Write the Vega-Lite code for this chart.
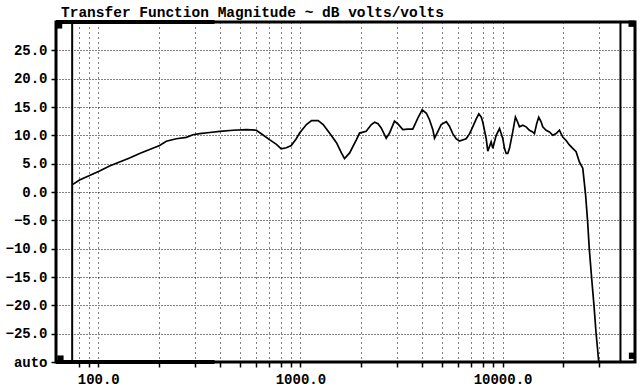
{
  "$schema": "https://vega.github.io/schema/vega-lite/v6.json",
  "width": 579,
  "height": 340,
  "autosize": {"type": "none"},
  "padding": {"left": 56, "top": 22, "right": 5, "bottom": 27},
  "background": "white",
  "title": {
    "text": "Transfer Function Magnitude ~ dB volts/volts",
    "anchor": "start",
    "frame": "group",
    "font": "Liberation Mono",
    "fontWeight": "bold",
    "fontSize": 14.5,
    "color": "black",
    "offset": 0,
    "dx": 5
  },
  "config": {
    "view": {"stroke": "black", "strokeWidth": 3},
    "axis": {
      "labelFont": "Liberation Mono",
      "labelFontWeight": "bold",
      "labelFontSize": 14,
      "labelColor": "black",
      "tickColor": "black",
      "tickWidth": 1.5,
      "tickSize": 5,
      "domain": false,
      "gridColor": "black",
      "gridOpacity": 1,
      "gridWidth": 1
    }
  },
  "datasets": {
    "curve": [
      {"f": 74.9, "db": 1.35}, {"f": 80.8, "db": 2.1}, {"f": 90.6, "db": 2.9}, {"f": 101.5, "db": 3.7},
      {"f": 113.7, "db": 4.6}, {"f": 127.5, "db": 5.3}, {"f": 142.9, "db": 6.0}, {"f": 160.2, "db": 6.8},
      {"f": 179.5, "db": 7.5}, {"f": 201.2, "db": 8.2}, {"f": 217, "db": 8.95}, {"f": 243.3, "db": 9.4},
      {"f": 272.7, "db": 9.65}, {"f": 294, "db": 10.1}, {"f": 317.4, "db": 10.3}, {"f": 355.6, "db": 10.5},
      {"f": 398.6, "db": 10.7}, {"f": 463.8, "db": 10.9}, {"f": 540.4, "db": 11.0}, {"f": 605.5, "db": 10.9},
      {"f": 651, "db": 10.1}, {"f": 703, "db": 9.25}, {"f": 761, "db": 8.4}, {"f": 804, "db": 7.6},
      {"f": 852, "db": 7.8}, {"f": 901, "db": 8.2}, {"f": 954, "db": 9.4}, {"f": 991, "db": 10.4},
      {"f": 1071, "db": 11.9}, {"f": 1135, "db": 12.6}, {"f": 1224, "db": 12.6}, {"f": 1296, "db": 11.9},
      {"f": 1393, "db": 10.4}, {"f": 1508, "db": 8.7}, {"f": 1595, "db": 6.9}, {"f": 1653, "db": 5.9},
      {"f": 1752, "db": 6.9}, {"f": 1893, "db": 9.25}, {"f": 1961, "db": 10.4}, {"f": 2115, "db": 10.7},
      {"f": 2244, "db": 11.9}, {"f": 2330, "db": 12.3}, {"f": 2420, "db": 12.05}, {"f": 2510, "db": 11.3},
      {"f": 2657, "db": 9.5}, {"f": 2760, "db": 10.4}, {"f": 2920, "db": 12.5}, {"f": 3030, "db": 12.05},
      {"f": 3210, "db": 11.0}, {"f": 3400, "db": 11.1}, {"f": 3595, "db": 11.1}, {"f": 3810, "db": 13.05},
      {"f": 4002, "db": 14.5}, {"f": 4200, "db": 13.9}, {"f": 4350, "db": 12.75}, {"f": 4520, "db": 11.0},
      {"f": 4607, "db": 9.5}, {"f": 4790, "db": 10.7}, {"f": 4970, "db": 11.9}, {"f": 5270, "db": 12.4},
      {"f": 5450, "db": 11.65}, {"f": 5670, "db": 10.3}, {"f": 5890, "db": 9.4}, {"f": 6120, "db": 9.0},
      {"f": 6605, "db": 9.4}, {"f": 6870, "db": 10.3}, {"f": 7120, "db": 11.5}, {"f": 7410, "db": 12.9},
      {"f": 7630, "db": 13.8}, {"f": 7850, "db": 13.2}, {"f": 7980, "db": 12.35}, {"f": 8300, "db": 9.4},
      {"f": 8450, "db": 7.2}, {"f": 8610, "db": 8.0}, {"f": 8780, "db": 8.85}, {"f": 8950, "db": 7.7},
      {"f": 9120, "db": 8.85}, {"f": 9300, "db": 10.0}, {"f": 9660, "db": 11.2}, {"f": 10030, "db": 9.4},
      {"f": 10220, "db": 7.7}, {"f": 10420, "db": 6.8}, {"f": 10610, "db": 6.8}, {"f": 10820, "db": 7.7},
      {"f": 11230, "db": 10.6}, {"f": 11580, "db": 13.2}, {"f": 11870, "db": 12.35}, {"f": 12120, "db": 11.5},
      {"f": 12580, "db": 11.8}, {"f": 13080, "db": 11.5}, {"f": 13580, "db": 10.9}, {"f": 14100, "db": 10.6},
      {"f": 14380, "db": 10.3}, {"f": 14760, "db": 12.1}, {"f": 15100, "db": 13.2}, {"f": 15530, "db": 12.35},
      {"f": 15800, "db": 11.5}, {"f": 16420, "db": 10.9}, {"f": 17060, "db": 10.6}, {"f": 17720, "db": 10.0},
      {"f": 18410, "db": 10.3}, {"f": 19110, "db": 10.9}, {"f": 19850, "db": 9.7}, {"f": 20620, "db": 9.1},
      {"f": 21410, "db": 8.3}, {"f": 22240, "db": 7.7}, {"f": 23110, "db": 7.1}, {"f": 23990, "db": 5.3},
      {"f": 24930, "db": 4.2}, {"f": 25350, "db": 1.8}, {"f": 25760, "db": -0.6}, {"f": 26360, "db": -5.3},
      {"f": 26850, "db": -10}, {"f": 27600, "db": -15.3}, {"f": 28330, "db": -20}, {"f": 28980, "db": -24.7},
      {"f": 29860, "db": -29.7}, {"f": 30100, "db": -30}
    ],
    "cursors": [{"f": 74.3, "f2": 74.3, "db": -30, "db2": 30}, {"f": 38300, "f2": 38300, "db": -30, "db2": 30}],
    "bars": [{"f": 61.8, "f2": 376, "db": 30, "db2": 30}, {"f": 61.8, "f2": 376, "db": -30, "db2": -30}],
    "corners": [{"f": 64, "db": 29.4}, {"f": 65, "db": -29.4}, {"f": 43700, "db": -28.9}, {"f": 43500, "db": 29.7}]
  },
  "encoding": {
    "x": {
      "field": "f",
      "type": "quantitative",
      "scale": {"type": "log", "domain": [61.8, 45200], "nice": false},
      "axis": {
        "title": null,
        "values": [80, 90, 100, 200, 300, 400, 500, 600, 700, 800, 900, 1000, 2000, 3000, 4000, 5000, 6000, 7000, 8000, 9000, 10000, 20000, 30000],
        "labelExpr": "(datum.value == 100 || datum.value == 1000 || datum.value == 10000) ? format(datum.value, '.1f') : ''",
        "grid": true,
        "gridDash": [1, 4],
        "labelPadding": 5,
        "labelFlush": false,
        "labelOverlap": false
      }
    },
    "y": {
      "field": "db",
      "type": "quantitative",
      "scale": {"domain": [-30, 30], "nice": false},
      "axis": {
        "title": null,
        "values": [-30, -25, -20, -15, -10, -5, 0, 5, 10, 15, 20, 25],
        "labelExpr": "datum.value == -30 ? 'auto' : format(datum.value, '.1f')",
        "grid": true,
        "gridDash": [1, 2],
        "labelPadding": 4,
        "labelFlush": false,
        "labelOverlap": false
      }
    }
  },
  "layer": [
    {
      "data": {"name": "curve"},
      "mark": {"type": "line", "color": "black", "strokeWidth": 1.7, "clip": true}
    },
    {
      "data": {"name": "cursors"},
      "mark": {"type": "rule", "color": "black", "strokeWidth": 2},
      "encoding": {
        "x2": {"field": "f2"},
        "y2": {"field": "db2"}
      }
    },
    {
      "data": {"name": "bars"},
      "mark": {"type": "rule", "color": "black", "strokeWidth": 4},
      "encoding": {
        "x2": {"field": "f2"},
        "y2": {"field": "db2"}
      }
    },
    {
      "data": {"name": "corners"},
      "mark": {"type": "point", "shape": "square", "filled": true, "color": "black", "opacity": 1, "size": 40}
    }
  ]
}
